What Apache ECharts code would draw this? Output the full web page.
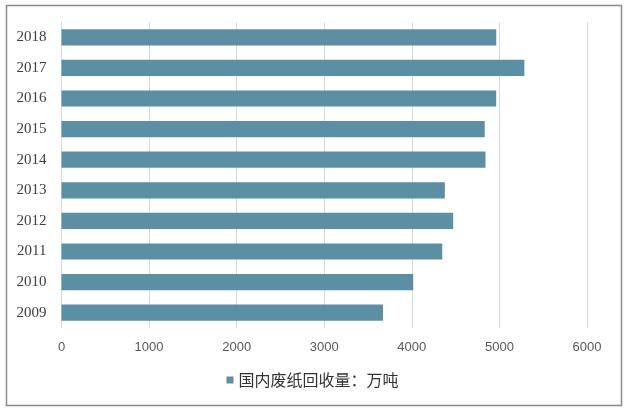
<!DOCTYPE html>
<html><head><meta charset="utf-8">
<script src="https://cdn.jsdelivr.net/npm/echarts@6/dist/echarts.min.js"></script>
<style>html,body{margin:0;padding:0;background:#fff}#c{width:625px;height:409px}</style>
</head><body><div id="c"></div>
<script>
const years = ['2009','2010','2011','2012','2013','2014','2015','2016','2017','2018'];
const values = [3671, 4016, 4347, 4472, 4377, 4841, 4832, 4963, 5285, 4964];
const seriesName = '国内废纸回收量：万吨';
const xTicks = {min: 0, max: 6000, interval: 1000};

const chart = echarts.init(document.getElementById('c'), null, {renderer: 'canvas'});
chart.setOption({
  animation: false,
  backgroundColor: '#fff',
  graphic: [{
    type: 'rect', left: 4, top: 3,
    shape: {width: 615, height: 400},
    style: {fill: 'none', stroke: '#8c8c8c', lineWidth: 1.5},
    silent: true
  }],
  grid: {left: 61.5, right: 38, top: 22, bottom: 81},
  legend: {
    data: [seriesName],
    bottom: 16, left: 'center',
    icon: 'rect', itemWidth: 7, itemHeight: 7, itemGap: 10,
    textStyle: {fontSize: 16, color: '#333', fontFamily: 'Noto Sans CJK SC'}
  },
  xAxis: {
    type: 'value', min: xTicks.min, max: xTicks.max, interval: xTicks.interval,
    axisLine: {show: false}, axisTick: {show: false},
    axisLabel: {color: '#595959', fontSize: 13, margin: 13, fontFamily: 'Liberation Sans',
      formatter: v => String(v)},
    splitLine: {show: true, lineStyle: {color: '#d9d9d9', width: 1}}
  },
  yAxis: {
    type: 'category', data: years,
    axisLine: {show: true, lineStyle: {color: '#d9d9d9'}},
    axisTick: {show: false},
    axisLabel: {color: '#404040', fontSize: 15, margin: 15, fontFamily: 'Liberation Serif'}
  },
  series: [{
    name: seriesName, type: 'bar', data: values,
    barWidth: '53%',
    itemStyle: {color: '#5b8fa3'}
  }]
});
</script></body></html>
